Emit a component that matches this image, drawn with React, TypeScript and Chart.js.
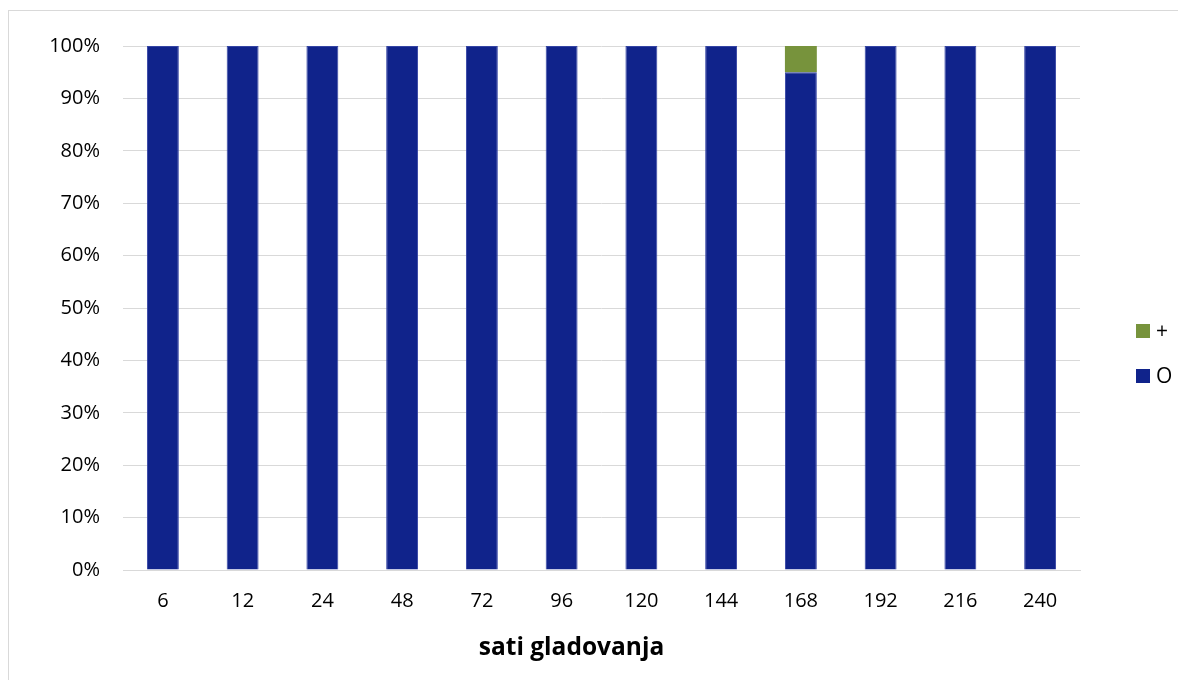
import React, { useEffect, useRef } from 'react';
import { Chart, registerables } from 'chart.js';

Chart.register(...registerables);

const categories = ['6', '12', '24', '48', '72', '96', '120', '144', '168', '192', '216', '240'];
const valuesO = [100, 100, 100, 100, 100, 100, 100, 100, 95, 100, 100, 100];
const valuesPlus = [0, 0, 0, 0, 0, 0, 0, 0, 5, 0, 0, 0];
const yTickValues = [0, 10, 20, 30, 40, 50, 60, 70, 80, 90, 100];
const xAxisTitle = 'sati gladovanja';
const seriesLabels = ['O', '+'];

const FONT = "'Open Sans', sans-serif";
const BLUE = '#10238b';
const GREEN = '#77933c';

const sideLegend = {
  id: 'sideLegend',
  afterDraw(chart: any) {
    const { ctx, chartArea } = chart;
    const items = chart.data.datasets.map((d: any) => ({ label: d.label, color: d.backgroundColor })).reverse();
    ctx.save();
    items.forEach((it: any, i: number) => {
      const cy = chartArea.top + 285 + i * 45;
      const x = chartArea.right + 56;
      ctx.fillStyle = it.color;
      ctx.fillRect(x, cy - 7, 14, 14);
      ctx.fillStyle = '#000';
      ctx.font = `21px ${FONT}`;
      ctx.textBaseline = 'middle';
      ctx.textAlign = 'left';
      ctx.fillText(it.label, x + 20, cy + 1);
    });
    // x-axis title (offset left of the plot centre, as in the reference)
    ctx.fillStyle = '#000';
    ctx.font = `bold 24.5px ${FONT}`;
    ctx.textAlign = 'center';
    ctx.textBaseline = 'middle';
    ctx.fillText(xAxisTitle, (chartArea.left + chartArea.right) / 2 - 30, chartArea.bottom + 78);
    ctx.restore();
  },
};

export default function App() {
  const ref = useRef<HTMLCanvasElement>(null);
  useEffect(() => {
    if (!ref.current) return;
    const chart = new Chart(ref.current, {
      type: 'bar',
      data: {
        labels: categories,
        datasets: [
          {
            label: seriesLabels[0],
            data: valuesO,
            backgroundColor: BLUE,
            borderColor: '#3444a4',
            borderWidth: 1,
            barPercentage: 0.4,
            categoryPercentage: 1,
          },
          {
            label: seriesLabels[1],
            data: valuesPlus,
            backgroundColor: GREEN,
            borderWidth: 0,
            barPercentage: 0.4,
            categoryPercentage: 1,
          },
        ],
      },
      plugins: [sideLegend],
      options: {
        animation: false,
        responsive: true,
        maintainAspectRatio: false,
        layout: { padding: { top: 34, right: 98, bottom: 48, left: 0 } },
        plugins: {
          legend: { display: false },
          tooltip: { enabled: false },
        },
        scales: {
          x: {
            stacked: true,
            grid: { display: false, drawTicks: false },
            border: { display: true, color: '#d9d9d9', width: 1 },
            ticks: { color: '#000', font: { family: FONT, size: 20 }, padding: 19 },
            title: { display: false, text: xAxisTitle },
          },
          y: {
            stacked: true,
            min: 0,
            max: 100,
            afterFit: (s: any) => {
              s.width = 114;
            },
            afterBuildTicks: (s: any) => {
              s.ticks = yTickValues.map((v) => ({ value: v }));
            },
            grid: { color: '#d9d9d9', lineWidth: 1, drawTicks: false },
            border: { display: false },
            ticks: {
              color: '#000',
              font: { family: FONT, size: 20 },
              padding: 23,
              callback: (v: any) => `${v}%`,
            },
          },
        },
      },
    });
    return () => chart.destroy();
  }, []);

  return (
    <div
      style={{
        marginTop: 2,
        width: 1177,
        height: 669,
        borderTop: '1px solid #d9d9d9',
        borderLeft: '1px solid #d9d9d9',
        background: '#fff',
      }}
    >
      <div style={{ position: 'relative', width: 1169, height: 669 }}>
        <canvas ref={ref} />
      </div>
    </div>
  );
}
